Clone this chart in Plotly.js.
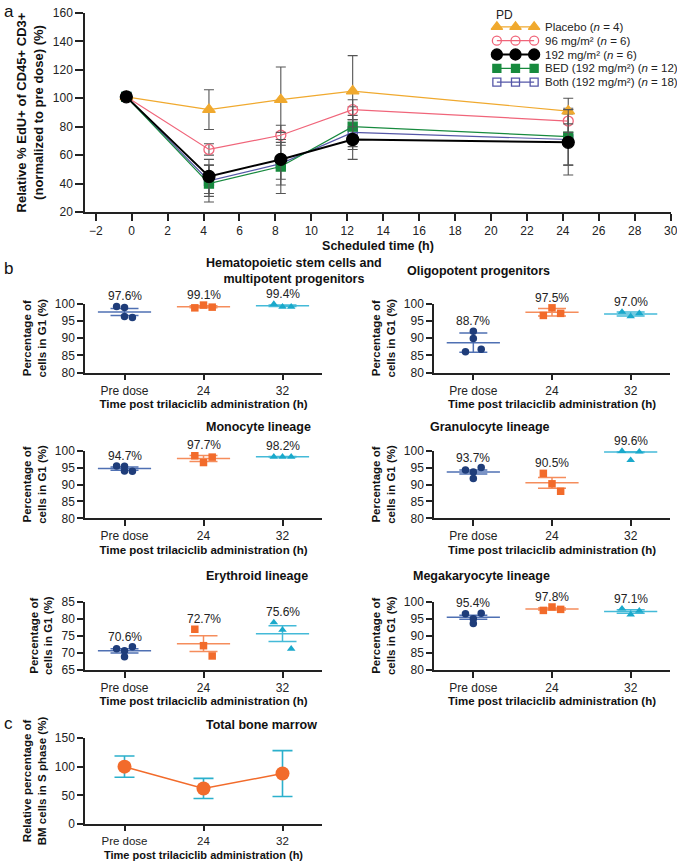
<!DOCTYPE html>
<html>
<head>
<meta charset="utf-8">
<script src="https://cdn.plot.ly/plotly-3.0.1.min.js"></script>
<style>html,body{margin:0;padding:0;background:#fff;}#chart{width:677px;height:861px;}</style>
</head>
<body>
<div id="chart"></div>
<script>
// ---------- Panel a data ----------
const timeA = [-0.3, 4.3, 8.3, 12.3, 24.3];
const placebo = [101, 92, 99, 105, 91];
const placeboErr = [0, 14, 23, 25, 9];
const dose96 = [101, 64, 74, 92, 84];
const dose96Err = [0, 4, 7, 7, 8];
const dose192 = [101, 45, 57, 71, 69];
const dose192Err = [0, 12, 14, 14, 23];
const bed = [101, 40, 52, 80, 73];
const bedErr = [0, 13, 19, 14, 20];
const both = [101, 42, 54, 76, 71];
const bothErr = [0, 11, 15, 12, 18];
const legendTitle = 'PD';
const seriesNames = ['Placebo (<i>n</i> = 4)', '96 mg/m² (<i>n</i> = 6)', '192 mg/m² (<i>n</i> = 6)',
  'BED (192 mg/m²) (<i>n</i> = 12)', 'Both (192 mg/m²) (<i>n</i> = 18)'];

// ---------- Panel b data ----------
const timepoints = ['Pre dose', '24', '32'];
const panelTitles = ['Hematopoietic stem cells and<br>multipotent progenitors', 'Oligopotent progenitors',
  'Monocyte lineage', 'Granulocyte lineage', 'Erythroid lineage', 'Megakaryocyte lineage'];
const hscPts = [[99.2, 98.9, 96.3, 96.0], [98.8, 99.6, 99.0], [99.9, 99.1, 99.1]];
const hscMean = [97.6, 99.1, 99.4];
const hscErr = [1.0, 0.3, 0.2];
const oligoPts = [[86.1, 92.0, 89.9, 86.8], [96.6, 98.8, 97.2], [97.6, 96.3, 97.2]];
const oligoMean = [88.7, 97.5, 97.0];
const oligoErr = [2.8, 1.1, 0.6];
const monoPts = [[95.5, 94.0, 95.4, 93.9], [98.5, 96.5, 98.1], [98.2, 98.2, 98.2]];
const monoMean = [94.7, 97.7, 98.2];
const monoErr = [0.5, 0.9, 0.1];
const granPts = [[94.3, 91.8, 93.7, 95.0], [93.3, 90.2, 88.0], [99.9, 97.2, 99.7]];
const granMean = [93.7, 90.5, 99.6];
const granErr = [0.6, 1.6, 0.1];
const eryPts = [[71.2, 68.9, 70.6, 71.8], [76.9, 72.1, 69.1], [78.9, 76.7, 71.2]];
const eryMean = [70.6, 72.7, 75.6];
const eryErr = [0.6, 2.3, 2.3];
const megaPts = [[96.4, 93.6, 95.0, 96.6], [97.4, 98.4, 97.7], [97.9, 96.2, 97.3]];
const megaMean = [95.4, 97.8, 97.1];
const megaErr = [0.6, 0.3, 0.5];

// ---------- Panel c data ----------
const bmMean = [100, 62, 88];
const bmErr = [18.5, 17.5, 40];

// ---------- Layout helpers ----------
const W = 677, H = 861;
const FONT = 'Liberation Sans, Arial, sans-serif';
const px = v => v / W;
const py = v => 1 - v / H;
const AX = '#222';

const ptColors = ['#1f3d7a', '#f26b2b', '#1aa9cb'];
const lineColors = ['#4f70b3', '#f58d5c', '#44bad8'];
const ptSymbols = ['circle', 'square', 'triangle-up'];
const jitter = {3: [-0.11, 0, 0.11], 4: [-0.1, 0.0, 0.0, 0.1]};

const traces = [];
const annotations = [];

// Panel a traces (drawing order), with a compact legend drawn on its own small axis
const aSeries = [
  {y: both, e: bothErr, c: '#5557a8', sym: 'square-open', size: 9, w: 1.2, rank: 4},
  {y: bed, e: bedErr, c: '#178a3e', sym: 'square', size: 9, w: 1.2, rank: 3},
  {y: dose96, e: dose96Err, c: '#f0657a', sym: 'circle-open', size: 10, w: 1.2, rank: 1},
  {y: placebo, e: placeboErr, c: '#f0a92e', sym: 'triangle-up', size: 11, w: 1.2, rank: 0},
  {y: dose192, e: dose192Err, c: '#000000', sym: 'circle', size: 12, w: 2, rank: 2}
];
aSeries.forEach(s => {
  traces.push({
    type: 'scatter', mode: 'lines+markers', x: timeA, y: s.y, name: seriesNames[s.rank], showlegend: false,
    xaxis: 'x', yaxis: 'y',
    line: {color: s.c, width: s.w},
    marker: {color: s.c, symbol: s.sym, size: s.size, line: {color: s.c, width: 1.3}},
    error_y: {type: 'data', array: s.e, visible: true, color: '#555', thickness: 1.1, width: 5},
    cliponaxis: false
  });
});
// legend glyphs: one row per series (row index = legend rank), three sample markers each
aSeries.slice().sort((a, b) => a.rank - b.rank).forEach(s => {
  traces.push({
    type: 'scatter', mode: 'lines+markers', x: [0, 1, 2], y: [s.rank, s.rank, s.rank],
    name: seriesNames[s.rank], showlegend: false, hoverinfo: 'skip',
    xaxis: 'x9', yaxis: 'y9',
    line: {color: s.c, width: s.w},
    marker: {color: s.c, symbol: s.sym, size: s.size - 1, line: {color: s.c, width: 1.3}},
    cliponaxis: false
  });
  annotations.push({xref: 'paper', yref: 'y9', x: px(543), y: s.rank, xanchor: 'left', yanchor: 'middle',
    text: seriesNames[s.rank], showarrow: false, font: {family: FONT, size: 11.5, color: '#222'}});
});
annotations.push({xref: 'paper', yref: 'paper', x: px(494), y: py(15), xanchor: 'left', yanchor: 'middle',
  text: legendTitle, showarrow: false, font: {family: FONT, size: 12, color: '#222'}});

// Panel b traces
const bData = [
  [hscPts, hscMean, hscErr], [oligoPts, oligoMean, oligoErr],
  [monoPts, monoMean, monoErr], [granPts, granMean, granErr],
  [eryPts, eryMean, eryErr], [megaPts, megaMean, megaErr]
];
bData.forEach((d, i) => {
  const ax = i + 2;
  const [pts, means, errs] = d;
  for (let j = 0; j < 3; j++) {
    traces.push({
      type: 'scatter', mode: 'markers', x: [j], y: [means[j]], showlegend: false,
      xaxis: 'x' + ax, yaxis: 'y' + ax, hoverinfo: 'y',
      marker: {symbol: 'line-ew-open', size: 38, color: lineColors[j], line: {color: lineColors[j], width: 1.5}},
      error_y: {type: 'data', array: [errs[j]], visible: true, color: lineColors[j], thickness: 1.5, width: 14},
      cliponaxis: false
    });
    const offs = jitter[pts[j].length];
    traces.push({
      type: 'scatter', mode: 'markers', x: pts[j].map((v, k) => j + offs[k]), y: pts[j], showlegend: false,
      xaxis: 'x' + ax, yaxis: 'y' + ax,
      marker: {symbol: ptSymbols[j], size: 7.5, color: ptColors[j]},
      cliponaxis: false
    });
    const top = Math.max(Math.max(...pts[j]), means[j] + errs[j]);
    annotations.push({
      xref: 'x' + ax, yref: 'y' + ax, x: j, y: top, yanchor: 'middle', yshift: 10,
      text: means[j].toFixed(1) + '%', showarrow: false, font: {family: FONT, size: 12, color: '#222'}
    });
  }
});

// Panel c trace
traces.push({
  type: 'scatter', mode: 'lines+markers', x: [0, 1, 2], y: bmMean, showlegend: false,
  xaxis: 'x8', yaxis: 'y8',
  line: {color: '#f26b2b', width: 1.5},
  marker: {color: '#f26b2b', size: 14},
  error_y: {type: 'data', array: bmErr, visible: true, color: '#2bb0cc', thickness: 1.6, width: 10},
  cliponaxis: false
});

// ---------- Axes ----------
const tickFont = {family: FONT, size: 12, color: '#222'};
const titleFont = {family: FONT, size: 11.5, color: '#111', weight: 'bold'};
function yAx(domain, range, dtick, title) {
  return {
    domain: domain, range: range, dtick: dtick, showgrid: false, zeroline: false,
    showline: true, linecolor: AX, linewidth: 1.5, ticks: 'outside', ticklen: 6, tickwidth: 1.5, tickcolor: AX,
    tickfont: tickFont, fixedrange: true,
    title: {text: title, font: titleFont, standoff: 6}
  };
}
function xCat(domain) {
  return {
    domain: domain, range: [-0.5, 2.5], tickvals: [0, 1, 2], ticktext: timepoints,
    showgrid: false, zeroline: false, showline: true, linecolor: AX, linewidth: 1.5,
    ticks: 'outside', ticklen: 6, tickwidth: 1.5, tickcolor: AX, tickfont: tickFont, fixedrange: true,
    title: {text: 'Time post trilaciclib administration (h)', font: titleFont, standoff: 3}
  };
}
const xL = [px(85), px(322)], xR = [px(434), px(670)];
const rows = [[py(372.7), py(303.7)], [py(518.3), py(450.7)], [py(670), py(601.5)]];
const titleRowsPx = [271, 427, 576];
const gTitle = 'Percentage of<br>cells in G1 (%)';

const layout = {
  width: W, height: H, margin: {l: 0, r: 0, t: 0, b: 0},
  paper_bgcolor: '#fff', plot_bgcolor: 'rgba(0,0,0,0)',
  font: {family: FONT, color: '#222'},
  showlegend: false,
  xaxis: {
    domain: [px(85), px(671)], range: [-2.6, 30.02], dtick: 2, tick0: 0, anchor: 'y',
    showgrid: false, zeroline: false, showline: true, linecolor: AX, linewidth: 1.5,
    ticks: 'outside', ticklen: 7, tickwidth: 1.5, tickcolor: AX, tickfont: tickFont, fixedrange: true,
    ticklabeloverflow: 'allow',
    title: {text: 'Scheduled time (h)', font: {family: FONT, size: 12.5, color: '#111', weight: 'bold'}, standoff: 4}
  },
  yaxis: Object.assign(yAx([py(212), py(13)], [20, 160], 20, ''), {anchor: 'x', ticklen: 8,
    title: {text: 'Relative % EdU+ of CD45+ CD3+<br>(normalized to pre dose) (%)', font: {family: FONT, size: 13, color: '#111', weight: 'bold'}, standoff: 6}}),
  xaxis9: {domain: [px(495), px(536)], range: [-0.1, 2.1], visible: false, fixedrange: true, anchor: 'y9'},
  yaxis9: {domain: [py(89), py(20)], range: [4.5, -0.5], visible: false, fixedrange: true, anchor: 'x9'},
  annotations: annotations,
  hovermode: 'closest'
};
const bRanges = [[80, 100], [80, 100], [80, 100], [80, 100], [65, 85], [80, 100]];
for (let i = 0; i < 6; i++) {
  const ax = i + 2;
  const col = i % 2, row = Math.floor(i / 2);
  const dom = col === 0 ? xL : xR;
  layout['xaxis' + ax] = Object.assign(xCat(dom), {anchor: 'y' + ax});
  layout['yaxis' + ax] = Object.assign(yAx(rows[row], bRanges[i], 5, gTitle), {anchor: 'x' + ax});
  annotations.push({
    xref: 'paper', yref: 'paper', x: (dom[0] + dom[1]) / 2, y: py(titleRowsPx[row]), yanchor: 'middle',
    text: '<b>' + panelTitles[i] + '</b>', showarrow: false, font: {family: FONT, size: 12.5, color: '#111'}
  });
}
layout.xaxis8 = Object.assign(xCat(xL), {anchor: 'y8', ticklen: 5, tickfont: {family: FONT, size: 11.5, color: '#222'},
  title: {text: 'Time post trilaciclib administration (h)', font: {family: FONT, size: 11, color: '#111', weight: 'bold'}, standoff: 6}});
layout.yaxis8 = Object.assign(yAx([py(824), py(738)], [0, 150], 50, 'Relative percentage of<br>BM cells in S phase (%)'), {anchor: 'x8'});
annotations.push({
  xref: 'paper', yref: 'paper', x: (xL[0] + xL[1]) / 2, y: py(725), yanchor: 'middle',
  text: '<b>Total bone marrow</b>', showarrow: false, font: {family: FONT, size: 12.5, color: '#111'}
});
[['a', 12], ['b', 268], ['c', 723]].forEach(([t, y]) => {
  annotations.push({xref: 'paper', yref: 'paper', x: px(2), y: py(y), xanchor: 'left', yanchor: 'middle',
    text: t, showarrow: false, font: {family: FONT, size: 17, color: '#111'}});
});

Plotly.newPlot('chart', traces, layout, {displayModeBar: false});
</script>
</body>
</html>
